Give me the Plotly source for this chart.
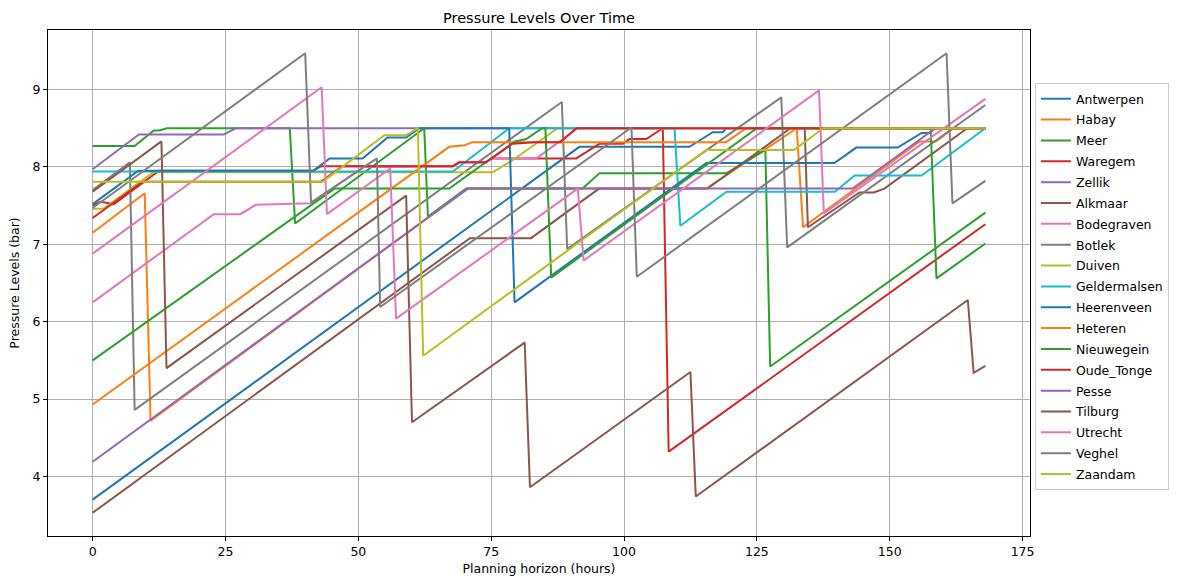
import plotly.graph_objects as go

# ---- data: breakpoints (hour, bar) of each station's pressure profile ----
antwerpen_h = [0, 91.6, 112.3, 116.7, 118.6, 119.2, 168]
antwerpen_bar = [3.70, 8.26, 8.26, 8.45, 8.45, 8.5, 8.5]

habay_h = [0, 9.8, 10.9, 70.6, 115.5, 132.3, 132.5, 133.7, 155.6, 158.7, 162, 168]
habay_bar = [7.15, 7.66, 4.72, 7.72, 7.72, 8.5, 8.5, 7.22, 8.33, 8.33, 8.5, 8.5]

meer_h = [0, 7.9, 11.5, 12.5, 14, 37.1, 38.1, 62.4, 63.1, 70.3, 92.2, 95.4, 119.3, 126.6, 127.5, 168]
meer_bar = [8.27, 8.27, 8.47, 8.47, 8.5, 8.5, 7.27, 8.5, 7.36, 7.72, 7.72, 7.92, 7.92, 8.22, 5.42, 7.41]

waregem_h = [0, 1.5, 4, 12.5, 41.5, 43, 67.8, 69, 74, 75, 91, 95.4, 99.8, 101, 104.2, 107.3, 108.4, 168]
waregem_bar = [7.50, 7.55, 7.52, 7.95, 7.95, 8.01, 8.01, 8.06, 8.06, 8.11, 8.11, 8.30, 8.30, 8.36, 8.36, 8.5, 4.32, 7.26]

zellik_h = [0, 8.7, 24.7, 26.9, 168]
zellik_bar = [7.97, 8.42, 8.42, 8.5, 8.5]

alkmaar_h = [0, 71, 82.5, 95.3, 115.7, 131.3, 134.0, 134.6, 144.3, 147, 149, 164.6, 168]
alkmaar_bar = [3.53, 7.08, 7.08, 7.72, 7.72, 8.5, 8.5, 7.22, 7.67, 7.67, 7.72, 8.5, 8.5]

bodegraven_h = [0, 22.8, 27.8, 30.7, 41.1, 51.0, 67.8, 69, 74, 75, 83.5, 91.3, 168]
bodegraven_bar = [6.25, 7.39, 7.39, 7.51, 7.53, 8.0, 8.01, 8.06, 8.06, 8.11, 8.11, 8.5, 8.5]

botlek_h = [0, 7, 7.9, 88.3, 89.3, 129.6, 130.7, 168]
botlek_bar = [7.70, 8.06, 4.86, 8.84, 6.94, 8.90, 6.96, 8.80]

duiven_h = [0, 2, 11.4, 75.3, 79.1, 87.5, 168]
duiven_bar = [7.46, 7.46, 7.93, 7.93, 8.09, 8.5, 8.5]

geldermalsen_h = [0, 67.8, 78.4, 109.5, 110.6, 119.3, 139.7, 143.4, 156, 168]
geldermalsen_bar = [7.94, 7.94, 8.5, 8.5, 7.24, 7.68, 7.68, 7.89, 7.89, 8.5]

heerenveen_h = [0, 8.6, 41.5, 44.6, 50.8, 55.5, 59, 61.5, 78.4, 79.4, 115.5, 139.6, 143.7, 151.5, 156, 157.5, 158.5, 168]
heerenveen_bar = [7.52, 7.95, 7.95, 8.11, 8.11, 8.38, 8.38, 8.5, 8.5, 6.25, 8.05, 8.05, 8.25, 8.25, 8.44, 8.44, 8.5, 8.5]

heteren_h = [0, 67.1, 70, 71.5, 119.2, 123, 168]
heteren_bar = [4.93, 8.26, 8.28, 8.32, 8.32, 8.5, 8.5]

nieuwegein_h = [0, 45.5, 67.1, 79.5, 81.6, 84.6, 85.2, 86.3, 125, 157.7, 158.8, 168]
nieuwegein_bar = [5.50, 7.72, 7.72, 8.33, 8.36, 8.5, 8.5, 6.57, 8.5, 8.5, 6.56, 7.01]

oude_tonge_h = [0, 9.4, 43, 47, 67.8, 69, 74, 75, 79, 83, 88, 91, 168]
oude_tonge_bar = [7.34, 7.81, 7.81, 8.01, 8.01, 8.06, 8.06, 8.11, 8.30, 8.32, 8.32, 8.5, 8.5]

pesse_h = [0, 70.6, 143, 158.6, 168]
pesse_bar = [4.19, 7.72, 7.72, 8.5, 8.5]

tilburg_h = [0, 12.95, 13.9, 59.0, 60.1, 81.3, 82.3, 112.5, 113.5, 164.7, 165.8, 168]
tilburg_bar = [7.68, 8.33, 5.40, 7.63, 4.70, 5.73, 3.86, 5.35, 3.74, 6.28, 5.34, 5.43]

utrecht_h = [0, 43.1, 44.1, 56.0, 57.1, 91.3, 92.4, 136.7, 137.6, 168]
utrecht_bar = [6.88, 9.03, 7.39, 7.98, 6.04, 7.72, 6.79, 8.99, 7.40, 8.88]

veghel_h = [0, 40, 41.1, 53.5, 54.1, 101.4, 102.4, 160.7, 161.8, 168]
veghel_bar = [7.47, 9.47, 7.54, 8.11, 6.19, 8.51, 6.58, 9.47, 7.53, 7.82]

zaandam_h = [0, 43.3, 54.9, 59, 61.2, 62.2, 95.4, 115.5, 132, 137.5, 168]
zaandam_bar = [7.81, 7.81, 8.41, 8.41, 8.5, 5.56, 7.22, 8.22, 8.22, 8.5, 8.5]

stations = ["Antwerpen", "Habay", "Meer", "Waregem", "Zellik", "Alkmaar", "Bodegraven",
            "Botlek", "Duiven", "Geldermalsen", "Heerenveen", "Heteren", "Nieuwegein",
            "Oude_Tonge", "Pesse", "Tilburg", "Utrecht", "Veghel", "Zaandam"]
hours = [antwerpen_h, habay_h, meer_h, waregem_h, zellik_h, alkmaar_h, bodegraven_h,
         botlek_h, duiven_h, geldermalsen_h, heerenveen_h, heteren_h, nieuwegein_h,
         oude_tonge_h, pesse_h, tilburg_h, utrecht_h, veghel_h, zaandam_h]
values = [antwerpen_bar, habay_bar, meer_bar, waregem_bar, zellik_bar, alkmaar_bar, bodegraven_bar,
          botlek_bar, duiven_bar, geldermalsen_bar, heerenveen_bar, heteren_bar, nieuwegein_bar,
          oude_tonge_bar, pesse_bar, tilburg_bar, utrecht_bar, veghel_bar, zaandam_bar]

x_ticks = [0, 25, 50, 75, 100, 125, 150, 175]
y_ticks = [4, 5, 6, 7, 8, 9]

tab10 = ["#1f77b4", "#ff7f0e", "#2ca02c", "#d62728", "#9467bd",
         "#8c564b", "#e377c2", "#7f7f7f", "#bcbd22", "#17becf"]

FONT = "DejaVu Sans"

fig = go.Figure()
for i, (name, h, v) in enumerate(zip(stations, hours, values)):
    fig.add_trace(go.Scatter(x=h, y=v, mode="lines", name=name, legendgroup=name,
                             line=dict(color=tab10[i % 10], width=2)))

axis_common = dict(showgrid=True, gridcolor="#b0b0b0", gridwidth=1,
                   showline=True, linecolor="black", linewidth=1, mirror=True,
                   ticks="outside", ticklen=4, tickcolor="black", zeroline=False,
                   tickfont=dict(family=FONT, size=12.5, color="black"))

fig.update_layout(
    width=1181, height=586,
    margin=dict(l=48, r=151, t=30, b=46),
    paper_bgcolor="white", plot_bgcolor="white",
    font=dict(family=FONT, size=12.5, color="black"),
    title=dict(text="Pressure Levels Over Time", x=0.5, xref="paper", xanchor="center",
               y=1 - 18 / 586, yref="container", yanchor="middle",
               font=dict(family=FONT, size=14.5, color="black")),
    xaxis=dict(range=[-8.4, 176.4], tickvals=x_ticks,
               title=dict(text="Planning horizon (hours)", standoff=6,
                          font=dict(family=FONT, size=12.5)),
               **axis_common),
    yaxis=dict(range=[3.23, 9.77], tickvals=y_ticks,
               title=dict(text="Pressure Levels (bar)", standoff=10,
                          font=dict(family=FONT, size=12.5)),
               **axis_common),
    legend=dict(x=1.005, xanchor="left", y=0.895, yanchor="top",
                bordercolor="#cccccc", borderwidth=1, bgcolor="white",
                font=dict(family=FONT, size=12.5), itemwidth=30, tracegroupgap=1.6),
    showlegend=True,
)

fig.write_html("out.html")
